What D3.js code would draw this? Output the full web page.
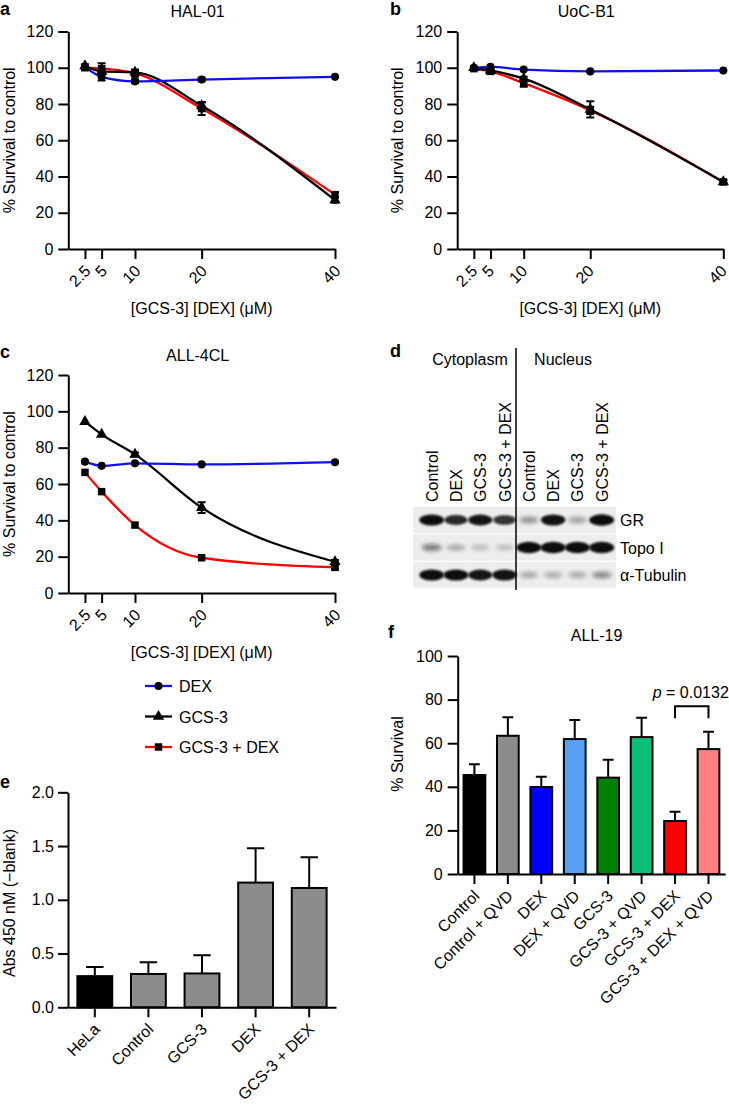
<!DOCTYPE html>
<html><head><meta charset="utf-8">
<script src="https://cdn.jsdelivr.net/npm/d3@7"></script>
<style>body{margin:0;background:#fff} svg text{font-family:"Liberation Sans",Arial,Helvetica,sans-serif}</style>
</head><body><svg id="fig" width="729" height="1109"></svg>
<script>
// ---------- DATA ----------
const doses = [2.5, 5, 10, 20, 40];
const doseLabels = ["2.5", "5", "10", "20", "40"];
const yTicksLine = [0, 20, 40, 60, 80, 100, 120];
const seriesNames = ["DEX", "GCS-3", "GCS-3 + DEX"];

// a: HAL-01
const halDex = [100.5, 95, 92.5, 93.5, 95];
const halGcs = [101, 98, 97.5, 79, 27];
const halCombo = [100, 99.5, 97, 77.5, 30];
const halDexErr = [0.5, 2, 1, 1, 0.5];
const halGcsErr = [1, 1.5, 1, 2, 1.5];
const halComboErr = [1, 3, 2, 3.5, 1.5];

// b: UoC-B1
const uocDex = [100, 100.5, 99, 98, 98.5];
const uocGcs = [100, 98.5, 94, 77, 37];
const uocCombo = [99.5, 98, 91.5, 76.5, 37];
const uocDexErr = [0.5, 0.5, 0.5, 0.5, 0.5];
const uocGcsErr = [0.5, 1, 1, 4.5, 1];
const uocComboErr = [0.5, 1.5, 2, 2, 1];

// c: ALL-4CL
const allDex = [72.3, 70, 71.4, 70.8, 72];
const allGcs = [94.3, 87.3, 76.3, 47, 17.2];
const allCombo = [66.4, 55.8, 37.4, 19.4, 14.1];
const allDexErr = [0.5, 0.5, 0.8, 0.5, 0.5];
const allGcsErr = [0.5, 0.5, 1, 3, 1];
const allComboErr = [0.5, 0.8, 0.8, 0.8, 1];

// d: western blot
const blotLanes = ["Control", "DEX", "GCS-3", "GCS-3 + DEX", "Control", "DEX", "GCS-3", "GCS-3 + DEX"];
const blotFractions = ["Cytoplasm", "Nucleus"];
const blotRows = ["GR", "Topo I", "α-Tubulin"];
const blotGR = [0.95, 0.8, 0.9, 0.75, 0.3, 0.92, 0.25, 0.97];
const blotTopo = [0.4, 0.2, 0.12, 0.12, 1, 1, 1, 1];
const blotTub = [0.95, 0.95, 0.9, 0.92, 0.22, 0.2, 0.22, 0.35];

// e: Abs 450
const eCats = ["HeLa", "Control", "GCS-3", "DEX", "GCS-3 + DEX"];
const eVals = [0.29, 0.31, 0.315, 1.16, 1.11];
const eErr = [0.085, 0.11, 0.17, 0.32, 0.285];
const eTicks = [0, 0.5, 1.0, 1.5, 2.0];

// f: ALL-19
const fCats = ["Control", "Control + QVD", "DEX", "DEX + QVD", "GCS-3", "GCS-3 + QVD", "GCS-3 + DEX", "GCS-3 + DEX + QVD"];
const fVals = [45.4, 63.4, 39.9, 61.9, 44.2, 62.8, 24.3, 57.3];
const fErr = [4.9, 8.5, 4.7, 8.7, 8.2, 8.9, 4.3, 8.0];
const fTicks = [0, 20, 40, 60, 80, 100];
const fBracket = {from: "GCS-3 + DEX", to: "GCS-3 + DEX + QVD", top: 77, leg: 71.5, label: "0.0132"};

// ---------- STYLE ----------
const FONT = '"Liberation Sans", Arial, Helvetica, sans-serif';
const FS = 16;
const seriesColors = ["#1010ee", "#000000", "#ff0000"];
const seriesSymbols = [d3.symbolCircle, d3.symbolTriangle, d3.symbolSquare];
const seriesSizes = [52, 56, 56];
const eColors = ["#000000", "#8c8c8c", "#8c8c8c", "#8c8c8c", "#8c8c8c"];
const fColors = ["#000000", "#8c8c8c", "#0000ff", "#56a0f6", "#008000", "#0abf78", "#ff0000", "#ff8080"];

const svg = d3.select("#fig");
svg.append("rect").attr("width", 729).attr("height", 1109).attr("fill", "#fff");

function text(x, y, s, o = {}) {
  const t = svg.append("text").attr("x", x).attr("y", y).attr("font-size", o.size || FS)
    .attr("text-anchor", o.anchor || "start").attr("fill", "#000").text(s);
  if (o.bold) t.attr("font-weight", "bold");
  if (o.rot) t.attr("x", null).attr("y", null).attr("transform", `translate(${x},${y}) rotate(${o.rot})`);
  return t;
}
function fmtAxis(g) {
  g.attr("font-size", FS).attr("font-family", FONT);
  g.selectAll(".domain, .tick line").attr("stroke", "#000").attr("stroke-width", 2);
  g.selectAll(".tick text").attr("fill", "#000");
}
function rotLabels(g, dx = 6) {
  g.selectAll(".tick text").attr("x", null).attr("y", null).attr("dy", null)
    .attr("text-anchor", "end").attr("transform", `translate(${dx},23) rotate(-45)`);
}

// ---------- LINE PANELS ----------
function linePanel(c) {
  const x = d3.scaleLinear().domain([0, 40]).range([c.left, c.right]);
  const y = d3.scaleLinear().domain([0, 120]).range([c.bottom, c.top]);
  const gy = svg.append("g").attr("transform", `translate(${c.left},0)`)
    .call(d3.axisLeft(y).tickValues(yTicksLine).tickSize(10).tickSizeOuter(0).tickPadding(5));
  fmtAxis(gy);
  const gx = svg.append("g").attr("transform", `translate(0,${c.bottom})`)
    .call(d3.axisBottom(x).tickValues(doses).tickFormat((d, i) => doseLabels[i]).tickSize(10).tickSizeOuter(0));
  fmtAxis(gx); rotLabels(gx, c.labDx);

  const line = d3.line().x((d, i) => x(doses[i])).y(d => y(d)).curve(d3.curveMonotoneX);
  [2, 1, 0].forEach(k => {
    svg.append("path").attr("d", line(c.series[k])).attr("fill", "none")
      .attr("stroke", seriesColors[k]).attr("stroke-width", 2.3);
  });
  c.series.forEach((vals, k) => {
    const err = c.errs[k];
    vals.forEach((v, i) => {
      const e = err[i]; if (e < 1) return;
      const px = x(doses[i]);
      svg.append("path").attr("d", `M${px},${y(v - e)}V${y(v + e)}M${px - 4},${y(v - e)}H${px + 4}M${px - 4},${y(v + e)}H${px + 4}`)
        .attr("stroke", "#000").attr("stroke-width", 2).attr("fill", "none");
    });
  });
  c.series.forEach((vals, k) => {
    svg.append("g").selectAll("path").data(vals).join("path")
      .attr("transform", (d, i) => `translate(${x(doses[i])},${y(d)})`)
      .attr("d", d3.symbol().type(seriesSymbols[k]).size(seriesSizes[k])).attr("fill", "#000");
  });
  text((c.left + c.right) / 2 - 4, c.top - 14.5, c.title, {anchor: "middle"});
  text(c.ylabX, (c.top + c.bottom) / 2, "% Survival to control", {anchor: "middle", rot: -90});
  text((c.left + c.right) / 2, c.bottom + 65, "[GCS-3] [DEX] (μM)", {anchor: "middle"});
}

linePanel({left: 68.3, right: 335, top: 31.5, bottom: 249, title: "HAL-01", ylabX: 15, labDx: 6,
  series: [halDex, halGcs, halCombo], errs: [halDexErr, halGcsErr, halComboErr]});
linePanel({left: 457.2, right: 723.3, top: 31.5, bottom: 249, title: "UoC-B1", ylabX: 403, labDx: 4,
  series: [uocDex, uocGcs, uocCombo], errs: [uocDexErr, uocGcsErr, uocComboErr]});
linePanel({left: 68.3, right: 335, top: 375, bottom: 593, title: "ALL-4CL", ylabX: 15, labDx: 6,
  series: [allDex, allGcs, allCombo], errs: [allDexErr, allGcsErr, allComboErr]});

// legend
seriesNames.forEach((n, k) => {
  const ly = 686 + k * 30.5;
  svg.append("line").attr("x1", 145).attr("x2", 172).attr("y1", ly).attr("y2", ly)
    .attr("stroke", seriesColors[k]).attr("stroke-width", 2.3);
  svg.append("path").attr("transform", `translate(158.5,${ly})`)
    .attr("d", d3.symbol().type(seriesSymbols[k]).size(seriesSizes[k])).attr("fill", "#000");
  text(179, ly + 6, n);
});

// ---------- PANEL D: BLOT ----------
const defs = svg.append("defs");
defs.append("filter").attr("id", "bl").attr("x", "-50%").attr("y", "-100%").attr("width", "200%").attr("height", "300%")
  .append("feGaussianBlur").attr("stdDeviation", 1.3);
defs.append("filter").attr("id", "bl2").attr("x", "-50%").attr("y", "-100%").attr("width", "200%").attr("height", "300%")
  .append("feGaussianBlur").attr("stdDeviation", 2.2);

const laneX = d3.scalePoint().domain(d3.range(blotLanes.length)).range([431.7, 601.7]);
const rowY = d3.scalePoint().domain(blotRows).range([520, 575]);
const blotData = [blotGR, blotTopo, blotTub];
blotRows.forEach((r) => {
  const cy = rowY(r);
  svg.append("rect").attr("x", 413).attr("y", cy - 13.2).attr("width", 203).attr("height", 26.4).attr("fill", "#ededed");
});
blotRows.forEach((r, ri) => {
  const cy = rowY(r);
  blotData[ri].forEach((v, li) => {
    svg.append("ellipse").attr("cx", laneX(li)).attr("cy", cy)
      .attr("rx", 8.5 + 4 * v).attr("ry", 2 + 3.8 * v)
      .attr("fill", "#0a0a0a").attr("opacity", Math.min(1, 0.15 + 0.9 * v))
      .attr("filter", v < 0.5 ? "url(#bl2)" : "url(#bl)");
  });
  text(620, cy + 6, r);
});
svg.append("line").attr("x1", 516).attr("x2", 516).attr("y1", 348).attr("y2", 590).attr("stroke", "#000").attr("stroke-width", 1.5);
text(470, 365, blotFractions[0], {anchor: "middle"});
text(563, 365, blotFractions[1], {anchor: "middle"});
blotLanes.forEach((l, i) => text(laneX(i) + 6, 502, l, {rot: -90}));

// ---------- PANEL E ----------
{
  const x = d3.scaleBand().domain(eCats).range([68, 336]).paddingInner(0.35).paddingOuter(0.175);
  const y = d3.scaleLinear().domain([0, 2]).range([1007.3, 792.3]);
  svg.append("g").selectAll("rect").data(eVals).join("rect")
    .attr("x", (d, i) => x(eCats[i])).attr("width", x.bandwidth())
    .attr("y", d => y(d)).attr("height", d => y(0) - y(d))
    .attr("fill", (d, i) => eColors[i]).attr("stroke", "#000").attr("stroke-width", 2);
  eVals.forEach((v, i) => {
    const cx = x(eCats[i]) + x.bandwidth() / 2, w = x.bandwidth() / 4;
    svg.append("path").attr("d", `M${cx},${y(v)}V${y(v + eErr[i])}M${cx - w},${y(v + eErr[i])}H${cx + w}`)
      .attr("stroke", "#000").attr("stroke-width", 2).attr("fill", "none");
  });
  const gy = svg.append("g").attr("transform", "translate(68,0)")
    .call(d3.axisLeft(y).tickValues(eTicks).tickFormat(d3.format(".1f")).tickSize(10).tickSizeOuter(0).tickPadding(4));
  fmtAxis(gy);
  const gx = svg.append("g").attr("transform", "translate(0,1007.3)")
    .call(d3.axisBottom(x).tickSize(10).tickSizeOuter(0));
  fmtAxis(gx); rotLabels(gx);
  text(15, 903, "Abs 450 nM (−blank)", {anchor: "middle", rot: -90});
}

// ---------- PANEL F ----------
{
  const x = d3.scaleBand().domain(fCats).range([457.7, 725.2]).paddingInner(0.35).paddingOuter(0.175);
  const y = d3.scaleLinear().domain([0, 100]).range([874, 656]);
  svg.append("g").selectAll("rect").data(fVals).join("rect")
    .attr("x", (d, i) => x(fCats[i])).attr("width", x.bandwidth())
    .attr("y", d => y(d)).attr("height", d => y(0) - y(d))
    .attr("fill", (d, i) => fColors[i]).attr("stroke", "#000").attr("stroke-width", 2);
  fVals.forEach((v, i) => {
    const cx = x(fCats[i]) + x.bandwidth() / 2, w = x.bandwidth() / 4;
    svg.append("path").attr("d", `M${cx},${y(v)}V${y(v + fErr[i])}M${cx - w},${y(v + fErr[i])}H${cx + w}`)
      .attr("stroke", "#000").attr("stroke-width", 2).attr("fill", "none");
  });
  const gy = svg.append("g").attr("transform", "translate(457.7,0)")
    .call(d3.axisLeft(y).tickValues(fTicks).tickSize(10).tickSizeOuter(0).tickPadding(5));
  fmtAxis(gy);
  const gx = svg.append("g").attr("transform", "translate(0,874)")
    .call(d3.axisBottom(x).tickSize(10).tickSizeOuter(0));
  fmtAxis(gx); rotLabels(gx);
  const bx1 = x(fBracket.from) + x.bandwidth() / 2, bx2 = x(fBracket.to) + x.bandwidth() / 2;
  svg.append("path").attr("d", `M${bx1},${y(fBracket.leg)}V${y(fBracket.top)}H${bx2}V${y(fBracket.leg)}`)
    .attr("stroke", "#000").attr("stroke-width", 2).attr("fill", "none");
  const pt = svg.append("text").attr("x", (bx1 + bx2) / 2 - 1).attr("y", y(fBracket.top) - 8)
    .attr("text-anchor", "middle").attr("font-size", FS).attr("fill", "#000");
  pt.append("tspan").attr("font-style", "italic").text("p");
  pt.append("tspan").text(" = " + fBracket.label);
  text(596.5, 641, "ALL-19", {anchor: "middle"});
  text(403, 754, "% Survival", {anchor: "middle", rot: -90});
}

// ---------- PANEL LETTERS ----------
[["a", 0, 15], ["b", 390, 15], ["c", 0, 358], ["d", 390, 357], ["e", 0, 788], ["f", 388, 638]]
  .forEach(([l, x, y]) => text(x, y, l, {bold: true, size: 18}));
</script>
</body></html>
